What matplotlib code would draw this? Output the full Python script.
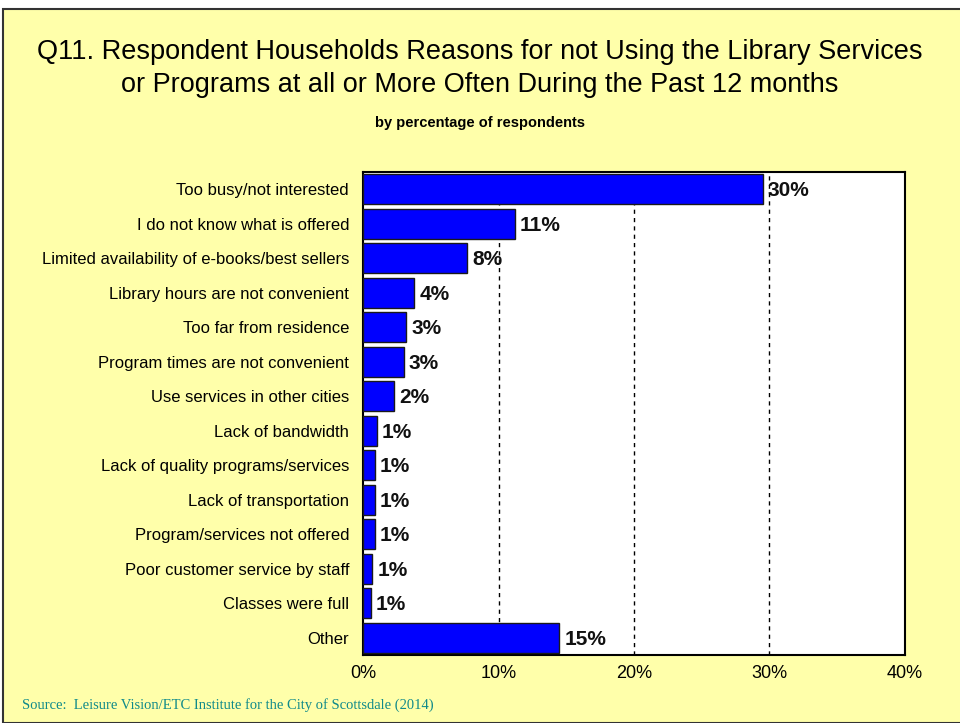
import numpy as np
import matplotlib.pyplot as plt
from matplotlib.patches import Rectangle

# reasons, top to bottom as shown
reasons = ["Too busy/not interested",
           "I do not know what is offered",
           "Limited availability of e-books/best sellers",
           "Library hours are not convenient",
           "Too far from residence",
           "Program times are not convenient",
           "Use services in other cities",
           "Lack of bandwidth",
           "Lack of quality programs/services",
           "Lack of transportation",
           "Program/services not offered",
           "Poor customer service by staff",
           "Classes were full",
           "Other"]
values = [29.5, 11.2, 7.7, 3.8, 3.2, 3.0, 2.3, 1.0, 0.9, 0.9, 0.9, 0.7, 0.6, 14.5]
labels = ["30%", "11%", "8%", "4%", "3%", "3%", "2%", "1%", "1%", "1%", "1%", "1%", "1%", "15%"]
xticks = [0, 10, 20, 30, 40]

plt.rcParams['font.family'] = ['Liberation Sans', 'DejaVu Sans']
bg = '#FFFFAA'

fig = plt.figure(figsize=(9.6, 7.23), dpi=100, facecolor='white')
# yellow frame with dark border
fig.patches.append(Rectangle((3/960, 0), 1, 1 - 9/723, transform=fig.transFigure,
                             facecolor=bg, edgecolor='#333333', lw=1.5, zorder=-1))

ax = fig.add_axes([363/960, 1 - 655/723, 542/960, 483/723])
ax.set_facecolor('white')

y = np.arange(len(reasons))
ax.barh(y, values, height=0.87, color='#0000FF', edgecolor='#1a1a1a', lw=1, zorder=3)
for yi, v, lab in zip(y, values, labels):
    ax.text(v + 0.35, yi + 0.05, lab, va='center', ha='left', fontsize=15,
            fontweight='bold', color='#111111', zorder=4)

ax.set_ylim(len(reasons) - 0.5, -0.5)
ax.set_xlim(0, 40)
ax.set_yticks(y)
ax.set_yticklabels(reasons, fontsize=12)
ax.set_xticks(xticks)
ax.set_xticklabels([f"{t}%" for t in xticks], fontsize=13)
ax.tick_params(length=0, pad=7)
ax.tick_params(axis='y', pad=10)
for t in xticks[1:-1]:
    ax.axvline(t, color='black', lw=1, ls=(0, (3, 3)), zorder=1)
for s in ax.spines.values():
    s.set_color('black')
    s.set_linewidth(1.5)

fig.text(0.5, 1 - 52/723, "Q11. Respondent Households Reasons for not Using the Library Services",
         ha='center', va='center', fontsize=19.5)
fig.text(0.5, 1 - 85/723, "or Programs at all or More Often During the Past 12 months",
         ha='center', va='center', fontsize=19.5)
fig.text(0.5, 1 - 123/723, "by percentage of respondents", ha='center', va='center',
         fontsize=10.5, fontweight='bold')
fig.text(22/960, 1 - 705/723, "Source:  Leisure Vision/ETC Institute for the City of Scottsdale (2014)",
         ha='left', va='center', fontsize=10.5, color='#108a8a', family='Liberation Serif')

fig.savefig('out.png', dpi=100, facecolor=fig.get_facecolor())
